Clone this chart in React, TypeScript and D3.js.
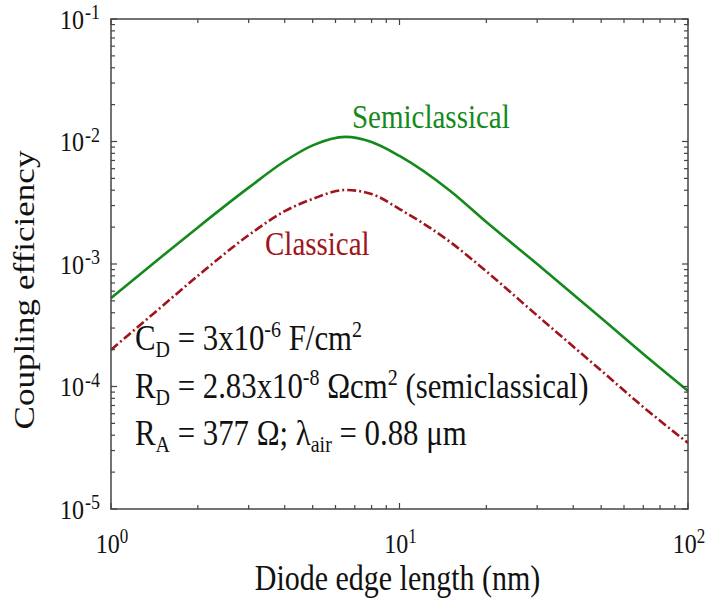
import React from 'react';
import * as d3 from 'd3';

// Diode edge length (nm)
const lengthsNm = [1, 1.5, 2, 3, 4, 5, 6.5, 8, 10, 15, 20, 30, 50, 70, 100];
// Coupling efficiency, semiclassical model
const semiclassical = [5.27e-4, 1.15e-3, 1.99e-3, 4.2e-3, 6.9e-3, 9.3e-3, 1.09e-2, 9.9e-3, 7.62e-3, 3.94e-3, 2.2e-3, 1.0e-3, 3.62e-4, 1.84e-4, 9.2e-5];
// Coupling efficiency, classical model
const classical = [1.99e-4, 4.5e-4, 8.0e-4, 1.72e-3, 2.7e-3, 3.4e-3, 4.02e-3, 3.73e-3, 2.81e-3, 1.51e-3, 8.7e-4, 3.8e-4, 1.35e-4, 6.8e-5, 3.46e-5];
const xTickExps = [0, 1, 2];
const yTickExps = [-1, -2, -3, -4, -5];

const W = 708;
const H = 602;
const M = { left: 111, right: 20, top: 19, bottom: 93 };
const FONT = '"Liberation Serif", "Times New Roman", serif';
const SY = 1.17;
const GREEN = '#14891c';
const RED = '#a0141c';
const AXIS = '#444';
const ANN = 30.8;
const ANN_S = 20;

export default function App() {
  const x = d3.scaleLog().domain([1, 100]).range([M.left, W - M.right]);
  const y = d3.scaleLog().domain([1e-5, 1e-1]).range([H - M.bottom, M.top]);
  const [x0, x1] = x.range();
  const [y0, y1] = y.range();

  const line = d3
    .line<number>()
    .x((_, i) => x(lengthsNm[i]))
    .y((d) => y(d))
    .curve(d3.curveMonotoneX);

  const xTicks: { v: number; major: boolean }[] = [];
  for (let e = 0; e < 2; e++) {
    for (let k = 1; k <= 9; k++) xTicks.push({ v: k * Math.pow(10, e), major: k === 1 });
  }
  xTicks.push({ v: 100, major: true });
  const yTicks: { v: number; major: boolean }[] = [];
  for (let e = -5; e < -1; e++) {
    for (let k = 1; k <= 9; k++) yTicks.push({ v: k * Math.pow(10, e), major: k === 1 });
  }
  yTicks.push({ v: 0.1, major: true });

  const tl = (major: boolean) => (major ? 6 : 4);

  return (
    <svg
      width={W}
      height={H}
      style={{ position: 'absolute', left: 0, top: 0, background: '#fff' }}
      fontFamily={FONT}
    >
      <rect x={0} y={0} width={W} height={H} fill="#fff" />

      {/* curves */}
      <path d={line(classical) || ''} fill="none" stroke={RED} strokeWidth={2.6} strokeDasharray="9,3,2,3" />
      <path d={line(semiclassical) || ''} fill="none" stroke={GREEN} strokeWidth={2.6} />

      {/* frame */}
      <rect x={x0} y={y1} width={x1 - x0} height={y0 - y1} fill="none" stroke={AXIS} strokeWidth={1.5} />

      {/* ticks */}
      {xTicks.map((t, i) => (
        <g key={'xt' + i} stroke={AXIS} strokeWidth={1.2}>
          <line x1={x(t.v)} x2={x(t.v)} y1={y0} y2={y0 - tl(t.major)} />
          <line x1={x(t.v)} x2={x(t.v)} y1={y1} y2={y1 + tl(t.major)} />
        </g>
      ))}
      {yTicks.map((t, i) => (
        <g key={'yt' + i} stroke={AXIS} strokeWidth={1.2}>
          <line x1={x0} x2={x0 + tl(t.major)} y1={y(t.v)} y2={y(t.v)} />
          <line x1={x1} x2={x1 - tl(t.major)} y1={y(t.v)} y2={y(t.v)} />
        </g>
      ))}

      {/* y tick labels */}
      {yTickExps.map((e) => (
        <g key={'yl' + e} transform={`translate(${x0 - 11},${y(Math.pow(10, e))}) scale(1,${SY})`}>
          <text x={0} y={8.5} textAnchor="end" fontSize={24} fill="#111">
            10
            <tspan fontSize={18} dx={1} dy={-8.5}>{String(e)}</tspan>
          </text>
        </g>
      ))}

      {/* x tick labels */}
      {xTickExps.map((e) => (
        <g key={'xl' + e} transform={`translate(${x(Math.pow(10, e)) + 1},553) scale(1,${SY})`}>
          <text x={0} y={0} textAnchor="middle" fontSize={24} fill="#111">
            10
            <tspan fontSize={17} dy={-8.5}>{String(e)}</tspan>
          </text>
        </g>
      ))}

      {/* axis titles */}
      <g transform={`translate(${(x0 + x1) / 2 - 2},590) scale(1,${SY})`}>
        <text textAnchor="middle" fontSize={30} fill="#111">Diode edge length (nm)</text>
      </g>
      <g transform={`translate(34,290) scale(1,${SY}) rotate(-90)`}>
        <text textAnchor="middle" fontSize={30} fill="#111">Coupling efficiency</text>
      </g>

      {/* series labels */}
      <g transform={`translate(352,128) scale(1,${SY})`}>
        <text fontSize={29} fill={GREEN}>Semiclassical</text>
      </g>
      <g transform={`translate(265,255) scale(1,${SY})`}>
        <text fontSize={29} fill={RED}>Classical</text>
      </g>

      {/* parameter annotations */}
      <g transform={`translate(135,350) scale(1,${SY})`} fill="#111" style={{ whiteSpace: 'pre' }}>
        <text fontSize={ANN}>
          C<tspan fontSize={ANN_S} dy={6}>D</tspan>
          <tspan dy={-6}>{' = 3x10'}</tspan>
          <tspan fontSize={ANN_S} dy={-11}>-6</tspan>
          <tspan dy={11}>{' F/cm'}</tspan>
          <tspan fontSize={ANN_S} dy={-11}>2</tspan>
        </text>
      </g>
      <g transform={`translate(135,398) scale(1,${SY})`} fill="#111" style={{ whiteSpace: 'pre' }}>
        <text fontSize={ANN}>
          R<tspan fontSize={ANN_S} dy={6}>D</tspan>
          <tspan dy={-6}>{' = 2.83x10'}</tspan>
          <tspan fontSize={ANN_S} dy={-11}>-8</tspan>
          <tspan dy={11}>{' Ωcm'}</tspan>
          <tspan fontSize={ANN_S} dy={-11}>2</tspan>
          <tspan dy={11}>{' (semiclassical)'}</tspan>
        </text>
      </g>
      <g transform={`translate(135,445) scale(1,${SY})`} fill="#111" style={{ whiteSpace: 'pre' }}>
        <text fontSize={ANN}>
          R<tspan fontSize={ANN_S} dy={6}>A</tspan>
          <tspan dy={-6}>{' = 377 Ω; λ'}</tspan>
          <tspan fontSize={ANN_S} dy={6}>air</tspan>
          <tspan dy={-6}>{' = 0.88 μm'}</tspan>
        </text>
      </g>
    </svg>
  );
}
